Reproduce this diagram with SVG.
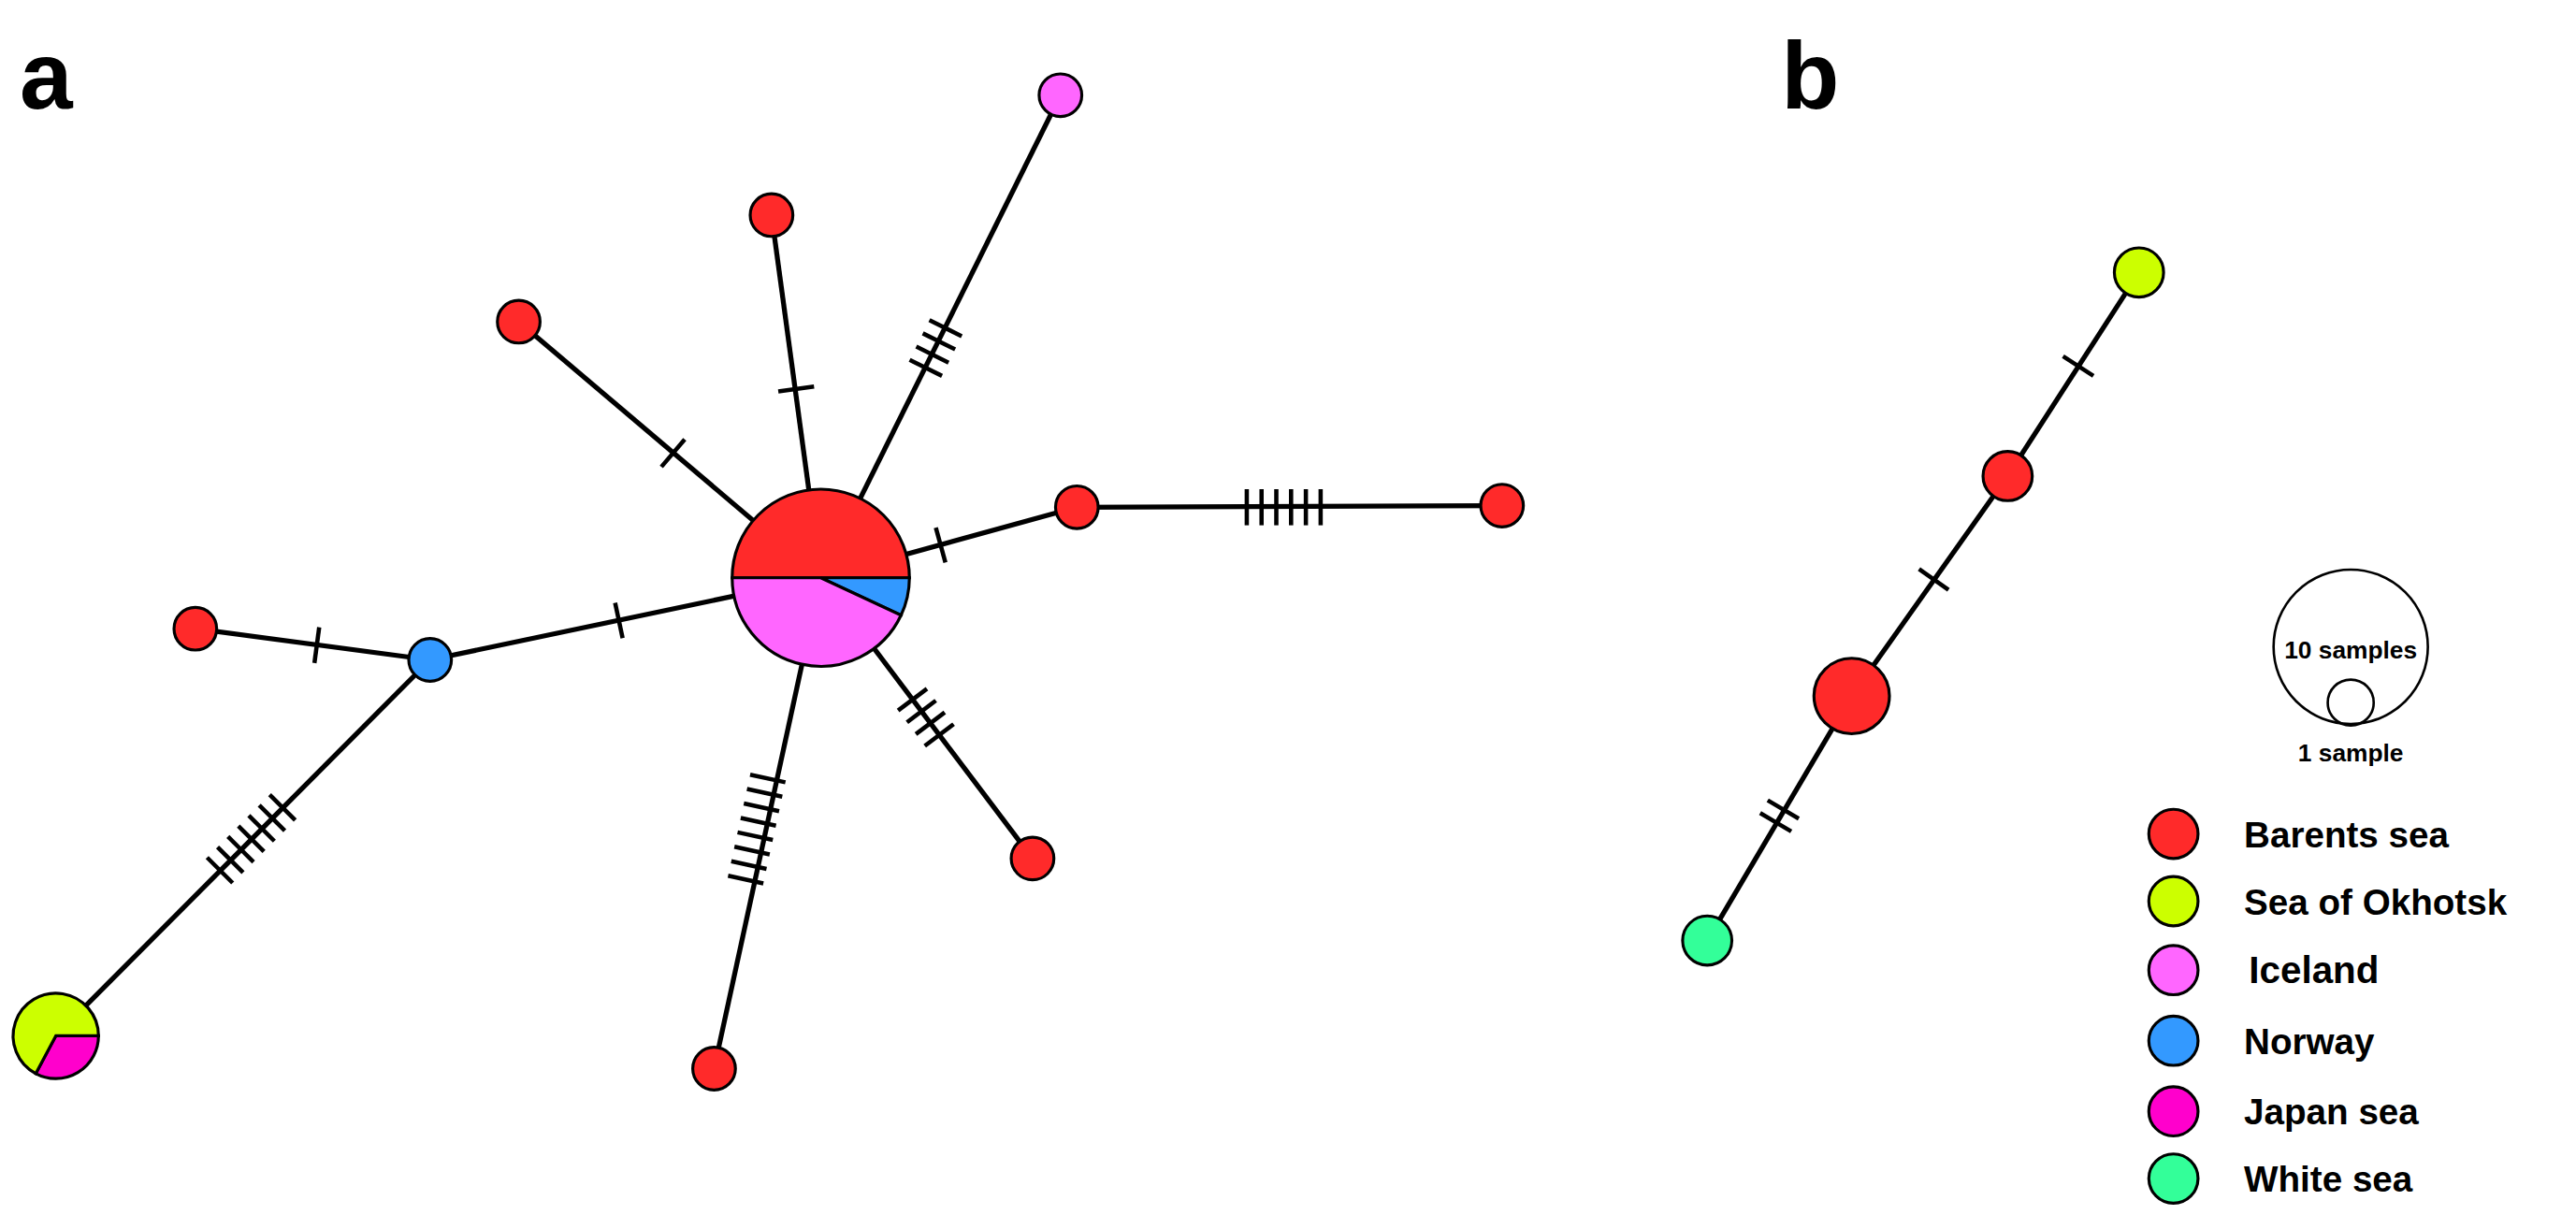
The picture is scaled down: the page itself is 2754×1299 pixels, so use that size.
<svg xmlns="http://www.w3.org/2000/svg" width="2754" height="1299" viewBox="0 0 2754 1299">
<style>
.e{stroke:#000;stroke-width:3;fill:none}
.t line{stroke:#000;stroke-width:2.6}
.n{stroke:#000;stroke-width:1.8}
.R{fill:#ff2a2a}.P{fill:#ff66ff}.B{fill:#3399ff}.Y{fill:#ccff00}.M{fill:#ff00cc}.G{fill:#33ff99}
.lab{font-family:"Liberation Sans",Arial,sans-serif;font-weight:bold;fill:#000}
</style>
<rect width="2754" height="1299" fill="#fff"/>
<g transform="scale(1.755)">
<text class="lab" x="12" y="66" font-size="58">a</text>
<text class="lab" x="1085" y="66" font-size="58">b</text>
<g id="connectors">
<line class="e" x1="500" y1="352" x2="646" y2="58"/>
<line class="e" x1="500" y1="352" x2="470" y2="131"/>
<line class="e" x1="500" y1="352" x2="316" y2="196"/>
<line class="e" x1="500" y1="352" x2="656" y2="309"/>
<line class="e" x1="656" y1="309" x2="915" y2="308"/>
<line class="e" x1="500" y1="352" x2="262" y2="402"/>
<line class="e" x1="262" y1="402" x2="119" y2="383"/>
<line class="e" x1="262" y1="402" x2="34" y2="631"/>
<line class="e" x1="500" y1="352" x2="629" y2="523"/>
<line class="e" x1="500" y1="352" x2="435" y2="651"/>
<line class="e" x1="1303" y1="166" x2="1223" y2="290"/>
<line class="e" x1="1223" y1="290" x2="1128" y2="424"/>
<line class="e" x1="1128" y1="424" x2="1040" y2="573"/>
<g class="t" transform="translate(570,212) rotate(-63.6)"><line x1="-13.5" y1="-11" x2="-13.5" y2="11"/><line x1="-4.5" y1="-11" x2="-4.5" y2="11"/><line x1="4.5" y1="-11" x2="4.5" y2="11"/><line x1="13.5" y1="-11" x2="13.5" y2="11"/></g>
<g class="t" transform="translate(485,237) rotate(-97.7)"><line x1="0" y1="-11" x2="0" y2="11"/></g>
<g class="t" transform="translate(410,276) rotate(-139.7)"><line x1="0" y1="-11" x2="0" y2="11"/></g>
<g class="t" transform="translate(573,332) rotate(-15.4)"><line x1="0" y1="-11" x2="0" y2="11"/></g>
<g class="t" transform="translate(782,309)"><line x1="-22.5" y1="-11" x2="-22.5" y2="11"/><line x1="-13.5" y1="-11" x2="-13.5" y2="11"/><line x1="-4.5" y1="-11" x2="-4.5" y2="11"/><line x1="4.5" y1="-11" x2="4.5" y2="11"/><line x1="13.5" y1="-11" x2="13.5" y2="11"/><line x1="22.5" y1="-11" x2="22.5" y2="11"/></g>
<g class="t" transform="translate(377,378) rotate(168)"><line x1="0" y1="-11" x2="0" y2="11"/></g>
<g class="t" transform="translate(193,393) rotate(7.6)"><line x1="0" y1="-11" x2="0" y2="11"/></g>
<g class="t" transform="translate(153,511) rotate(134.9)"><line x1="-27" y1="-11" x2="-27" y2="11"/><line x1="-18" y1="-11" x2="-18" y2="11"/><line x1="-9" y1="-11" x2="-9" y2="11"/><line x1="0" y1="-11" x2="0" y2="11"/><line x1="9" y1="-11" x2="9" y2="11"/><line x1="18" y1="-11" x2="18" y2="11"/><line x1="27" y1="-11" x2="27" y2="11"/></g>
<g class="t" transform="translate(564,437) rotate(53)"><line x1="-13.5" y1="-11" x2="-13.5" y2="11"/><line x1="-4.5" y1="-11" x2="-4.5" y2="11"/><line x1="4.5" y1="-11" x2="4.5" y2="11"/><line x1="13.5" y1="-11" x2="13.5" y2="11"/></g>
<g class="t" transform="translate(461,505) rotate(102.3)"><line x1="-31.5" y1="-11" x2="-31.5" y2="11"/><line x1="-22.5" y1="-11" x2="-22.5" y2="11"/><line x1="-13.5" y1="-11" x2="-13.5" y2="11"/><line x1="-4.5" y1="-11" x2="-4.5" y2="11"/><line x1="4.5" y1="-11" x2="4.5" y2="11"/><line x1="13.5" y1="-11" x2="13.5" y2="11"/><line x1="22.5" y1="-11" x2="22.5" y2="11"/><line x1="31.5" y1="-11" x2="31.5" y2="11"/></g>
<g class="t" transform="translate(1266,223) rotate(122.8)"><line x1="0" y1="-11" x2="0" y2="11"/></g>
<g class="t" transform="translate(1178,353) rotate(125.3)"><line x1="0" y1="-11" x2="0" y2="11"/></g>
<g class="t" transform="translate(1084,497) rotate(120.6)"><line x1="-4.5" y1="-11" x2="-4.5" y2="11"/><line x1="4.5" y1="-11" x2="4.5" y2="11"/></g>
</g>
<g id="hub">
<path class="n R" d="M446,352 A54,54 0 0 1 554,352 Z"/>
<path class="n B" d="M500,352 L554,352 A54,54 0 0 1 548.9,374.8 Z"/>
<path class="n P" d="M500,352 L548.9,374.8 A54,54 0 0 1 446,352 Z"/>
</g>
<g id="pie2">
<path class="n M" d="M34,631 L60,631 A26,26 0 0 1 21.8,654 Z"/>
<path class="n Y" d="M34,631 L21.8,654 A26,26 0 1 1 60,631 Z"/>
</g>
<g id="n1"><circle class="n P" cx="646" cy="58" r="13"/></g>
<g id="n2"><circle class="n R" cx="470" cy="131" r="13"/></g>
<g id="n3"><circle class="n R" cx="316" cy="196" r="13"/></g>
<g id="n4"><circle class="n R" cx="656" cy="309" r="13"/></g>
<g id="n5"><circle class="n R" cx="915" cy="308" r="13"/></g>
<g id="n6"><circle class="n R" cx="119" cy="383" r="13"/></g>
<g id="n7"><circle class="n B" cx="262" cy="402" r="13"/></g>
<g id="n8"><circle class="n R" cx="629" cy="523" r="13"/></g>
<g id="n9"><circle class="n R" cx="435" cy="651" r="13"/></g>
<g id="b1"><circle class="n Y" cx="1303" cy="166" r="15"/></g>
<g id="b2"><circle class="n R" cx="1223" cy="290" r="15"/></g>
<g id="b3"><circle class="n R" cx="1128" cy="424" r="23"/></g>
<g id="b4"><circle class="n G" cx="1040" cy="573" r="15"/></g>
<g id="legend">
<circle cx="1432" cy="394" r="47" fill="none" stroke="#000" stroke-width="1.5"/>
<circle cx="1432" cy="428" r="14" fill="none" stroke="#000" stroke-width="1.5"/>
<text class="lab" x="1432" y="401" font-size="15" text-anchor="middle">10 samples</text>
<text class="lab" x="1432" y="464" font-size="15" text-anchor="middle">1 sample</text>
<circle class="n R" cx="1324" cy="508" r="15"/>
<circle class="n Y" cx="1324" cy="549" r="15"/>
<circle class="n P" cx="1324" cy="591" r="15"/>
<circle class="n B" cx="1324" cy="634" r="15"/>
<circle class="n M" cx="1324" cy="677" r="15"/>
<circle class="n G" cx="1324" cy="718" r="15"/>
<text class="lab" x="1367" y="516" font-size="22">Barents sea</text>
<text class="lab" x="1367" y="557" font-size="22">Sea of Okhotsk</text>
<text class="lab" x="1370" y="599" font-size="23">Iceland</text>
<text class="lab" x="1367" y="642" font-size="22">Norway</text>
<text class="lab" x="1367" y="685" font-size="22">Japan sea</text>
<text class="lab" x="1367" y="726" font-size="22">White sea</text>
</g>
</g>
</svg>
